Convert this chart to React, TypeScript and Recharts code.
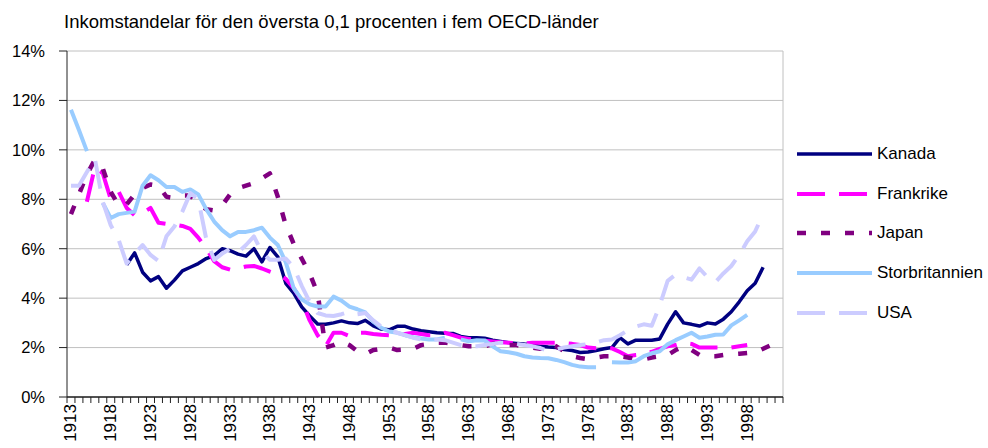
import {
  CartesianGrid,
  Line,
  LineChart,
  ReferenceLine,
  XAxis,
  YAxis,
} from "recharts";

const FONT = '"Liberation Sans", Arial, sans-serif';

const years = [
  1913, 1914, 1915, 1916, 1917, 1918, 1919, 1920, 1921, 1922,
  1923, 1924, 1925, 1926, 1927, 1928, 1929, 1930, 1931, 1932,
  1933, 1934, 1935, 1936, 1937, 1938, 1939, 1940, 1941, 1942,
  1943, 1944, 1945, 1946, 1947, 1948, 1949, 1950, 1951, 1952,
  1953, 1954, 1955, 1956, 1957, 1958, 1959, 1960, 1961, 1962,
  1963, 1964, 1965, 1966, 1967, 1968, 1969, 1970, 1971, 1972,
  1973, 1974, 1975, 1976, 1977, 1978, 1979, 1980, 1981, 1982,
  1983, 1984, 1985, 1986, 1987, 1988, 1989, 1990, 1991, 1992,
  1993, 1994, 1995, 1996, 1997, 1998, 1999, 2000, 2001, 2002,
];

// andel i procent, null = saknas
const kanada = [
  null, null, null, null, null, null, null, 5.35, 5.83, 5.05,
  4.7, 4.87, 4.4, 4.73, 5.1, 5.25, 5.4, 5.6, 5.72, 6.0,
  5.92, 5.78, 5.7, 6.0, 5.47, 6.05, 5.67, 4.6, 4.2, 3.65,
  3.28, 2.95, 2.94, 3.0, 3.08, 3.0, 2.97, 3.1, 2.88, 2.75,
  2.72, 2.86, 2.86, 2.75, 2.68, 2.64, 2.6, 2.58, 2.57, 2.45,
  2.4, 2.4, 2.38, 2.3, 2.25, 2.2, 2.17, 2.14, 2.12, 2.05,
  2.02, 2.0, 1.92, 1.88, 1.8, 1.82, 1.88, 1.95, 2.0, 2.4,
  2.15, 2.3, 2.3, 2.3, 2.35, 2.95, 3.45, 3.0, 2.94, 2.87,
  3.0, 2.95, 3.15, 3.45, 3.85, 4.3, 4.6, 5.25, null, null,
];

const frankrike = [
  null, null, 7.9, 9.3, 9.05, 8.0, 8.3, 7.65, 7.35, 7.45,
  7.65, 7.05, 7.0, 6.98, 6.92, 6.8, 6.45, 6.0, 5.5, 5.25,
  5.15, 5.2, 5.28, 5.3, 5.2, 5.07, 4.95, 4.78, 4.4, 3.9,
  3.1, 2.5, 2.05, 2.6, 2.6, 2.47, 2.6, 2.6, 2.55, 2.52,
  2.5, 2.46, 2.55, 2.6, 2.55, 2.5, 2.5, 2.6, 2.5, 2.4,
  2.35, 2.3, 2.28, 2.25, 2.22, 2.2, 2.18, 2.17, 2.2, 2.2,
  2.2, 2.2, 2.18, 2.15, 2.1, 2.0, 1.97, 2.0, 1.97, 1.82,
  1.65, 1.7, 1.73, 1.83, 1.95, 2.05, 2.1, 2.2, 2.15, 2.0,
  2.0, 2.0, 2.0, 2.0, 2.05, 2.1, null, null, null, null,
];

const japan = [
  7.4, 8.2, 9.0, 9.6, 9.25, 8.3, 7.75, 7.8, 8.2, 8.45,
  8.6, 8.55, 8.1, 8.05, 8.15, 8.15, 7.8, 7.6, 7.55, 7.75,
  8.2, 8.45, 8.55, 8.65, 8.85, 9.05, 8.1, 6.95, 6.2, 5.6,
  5.0, 4.2, 2.0, 2.1, 2.25, 2.1, 1.85, 1.73, 1.9, 1.95,
  2.0, 1.9, 1.92, 1.95, 2.1, 2.15, 2.2, 2.2, 2.15, 2.1,
  2.05, 2.05, 2.05, 2.15, 2.2, 2.1, 2.1, 2.05, 2.0, 1.95,
  2.18, 2.05, 1.85, 1.65, 1.58, 1.53, 1.6, 1.65, 1.65, 1.65,
  1.6, 1.53, 1.53, 1.6, 1.65, 1.7, 1.9, 2.05, 1.9, 1.7,
  1.65, 1.65, 1.7, 1.73, 1.75, 1.78, 1.8, 1.95, 2.1, 2.2,
];

const storbritannien = [
  11.62, 10.8, 9.95, null, 7.85, 7.24, 7.4, 7.45, 7.5, 8.55,
  8.97, 8.77, 8.5, 8.5, 8.3, 8.4, 8.2, 7.6, 7.1, 6.75,
  6.5, 6.68, 6.68, 6.75, 6.85, 6.45, 6.15, 5.45, 4.4, 3.95,
  3.75, 3.66, 3.66, 4.06, 3.9, 3.66, 3.55, 3.42, 3.05, 2.8,
  2.65, 2.6, 2.5, 2.42, 2.37, 2.33, 2.33, 2.4, null, 2.33,
  2.25, 2.3, 2.29, 2.05, 1.85, 1.81, 1.75, 1.65, 1.6, 1.58,
  1.57, 1.5, 1.41, 1.3, 1.23, 1.2, 1.2, null, 1.41, 1.4,
  1.4, 1.45, 1.65, 1.77, 1.85, 2.13, 2.3, 2.45, 2.6, 2.4,
  2.45, 2.52, 2.53, 2.9, 3.1, 3.32, null, null, null, null,
];

const usa = [
  8.55, 8.55, 9.1, 9.65, 7.9, 6.95, 6.35, 5.4, 5.8, 6.15,
  5.75, 5.5, 6.5, 6.9, 7.5, 8.25, 8.0, 6.4, 5.55, 5.8,
  6.0, 5.85, 6.15, 6.5, 5.85, 5.55, 5.55, 5.6, 5.25, 4.5,
  3.85, 3.4, 3.3, 3.28, 3.35, 3.45, 3.35, 3.4, 3.1, 2.85,
  2.72, 2.6, 2.5, 2.4, 2.33, 2.33, 2.33, 2.3, 2.2, 2.1,
  2.05, 2.05, 2.1, 2.15, 2.2, 2.2, 2.15, 2.1, 2.05, 1.98,
  1.85, 1.93, 2.0, 2.05, 2.1, 2.13, 2.2, 2.3, 2.33, 2.5,
  2.7, 2.85, 2.94, 2.88, 3.7, 4.7, 4.95, 4.85, 4.75, 5.2,
  4.85, 4.65, 5.0, 5.3, 5.75, 6.3, 6.7, 7.4, null, null,
];

const yTicks = [0, 2, 4, 6, 8, 10, 12, 14];
const labelYears = [
  1913, 1918, 1923, 1928, 1933, 1938, 1943, 1948, 1953, 1958,
  1963, 1968, 1973, 1978, 1983, 1988, 1993, 1998,
];

const series = [
  { key: "Kanada", values: kanada, color: "#000080", width: 3.5, dash: undefined },
  { key: "Frankrike", values: frankrike, color: "#ff00ff", width: 4, dash: "28 14" },
  { key: "Japan", values: japan, color: "#800080", width: 4.5, dash: "9 15" },
  { key: "Storbritannien", values: storbritannien, color: "#99ccff", width: 4, dash: undefined },
  { key: "USA", values: usa, color: "#ccccff", width: 4, dash: "28 14" },
];

const data = years.map((year, i) => {
  const row: Record<string, number | null> = { year };
  series.forEach((s) => {
    row[s.key] = s.values[i];
  });
  return row;
});

// tick marks sit between the year categories, like in Excel
const tickMarks = [...years.map((y) => y - 0.5), years[years.length - 1] + 0.5];
const xDomain = [tickMarks[0], tickMarks[tickMarks.length - 1]];

// one tick per category boundary: a short mark, plus the year label
// (every fifth year) centred in the category to its right
const BottomTick = ({ x, y, payload, width }: any) => {
  const axisWidth = Number.isFinite(width) && width > 0 ? width : 716;
  const half = axisWidth / (tickMarks.length - 1) / 2;
  const year = payload.value + 0.5;
  const lx = x + half;
  const ly = y + 7;
  return (
    <g>
      <line x1={x} x2={x} y1={y} y2={y + 6} stroke="#222" strokeWidth={1} />
      {labelYears.includes(year) && (
        <text
          x={lx}
          y={ly}
          transform={`rotate(-90 ${lx} ${ly})`}
          textAnchor="end"
          dominantBaseline="central"
          fontSize={17}
          fontFamily={FONT}
          fill="#000"
        >
          {year}
        </text>
      )}
    </g>
  );
};

function LegendBox() {
  return (
    <div
      style={{
        position: "absolute",
        left: 797,
        top: 134,
        fontFamily: FONT,
        fontSize: 17,
        color: "#000",
      }}
    >
      {series.map((s) => (
        <div key={s.key} style={{ display: "flex", alignItems: "center", height: 39.7 }}>
          <svg width={75} height={8} style={{ display: "block" }}>
            <line
              x1={0}
              x2={75}
              y1={4}
              y2={4}
              stroke={s.color}
              strokeWidth={s.width}
              strokeDasharray={s.dash}
            />
          </svg>
          <span style={{ marginLeft: 5 }}>{s.key}</span>
        </div>
      ))}
    </div>
  );
}

export default function App() {
  return (
    <div
      style={{
        position: "absolute",
        left: 0,
        top: 0,
        width: 988,
        height: 448,
        background: "#fff",
        overflow: "hidden",
      }}
    >
      <svg width={988} height={40} style={{ position: "absolute", left: 0, top: 0 }}>
        <text x={64} y={28} fontSize={18.5} fontFamily={FONT} fill="#000">
          Inkomstandelar för den översta 0,1 procenten i fem OECD-länder
        </text>
      </svg>
      <LineChart
        width={988}
        height={448}
        data={data}
        margin={{ top: 51, right: 205, bottom: 0, left: 0 }}
      >
        <CartesianGrid vertical={false} stroke="#c0c0c0" />
        <ReferenceLine x={xDomain[1]} stroke="#c0c0c0" />
        <XAxis
          dataKey="year"
          type="number"
          domain={xDomain}
          allowDataOverflow
          ticks={tickMarks}
          tick={BottomTick}
          tickSize={0}
          tickMargin={0}
          tickLine={false}
          stroke="#222"
          height={51}
          interval={0}
        />
        <YAxis
          type="number"
          domain={[0, 14]}
          ticks={yTicks}
          tickFormatter={(v) => `${v}%`}
          width={67}
          tickSize={8}
          tickMargin={14}
          stroke="#222"
          tick={{ fill: "#000", fontSize: 16.5, fontFamily: FONT }}
          interval={0}
        />
        {series.map((s) => (
          <Line
            key={s.key}
            type="linear"
            dataKey={s.key}
            stroke={s.color}
            strokeWidth={s.width}
            strokeDasharray={s.dash}
            strokeLinejoin="round"
            dot={false}
            activeDot={false}
            connectNulls={false}
            isAnimationActive={false}
          />
        ))}
        <ReferenceLine y={0} stroke="#222" />
      </LineChart>
      <LegendBox />
    </div>
  );
}
